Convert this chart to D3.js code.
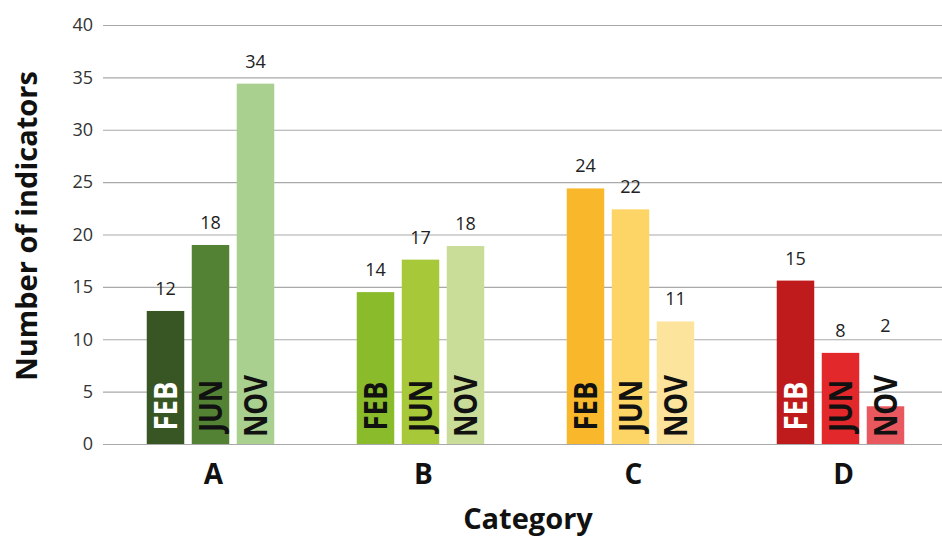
<!DOCTYPE html>
<html>
<head>
<meta charset="utf-8">
<script src="https://cdn.jsdelivr.net/npm/d3@7"></script>
<style>
  html, body { margin: 0; padding: 0; background: #fff; }
  svg { display: block; font-family: "Open Sans", "DejaVu Sans", sans-serif; }
</style>
</head>
<body>
<svg id="chart" width="942" height="536"></svg>
<script>
// ---- data ----
const categories = ["A", "B", "C", "D"];
const months = ["FEB", "JUN", "NOV"];
// numbers printed above the bars
const labelValues = {
  A: [12, 18, 34],
  B: [14, 17, 18],
  C: [24, 22, 11],
  D: [15, 8, 2]
};
// bar heights as drawn in the reference
const barValues = {
  A: [12.7, 19.0, 34.4],
  B: [14.5, 17.6, 18.9],
  C: [24.4, 22.4, 11.7],
  D: [15.6, 8.7, 3.6]
};
const yTicks = [0, 5, 10, 15, 20, 25, 30, 35, 40];
const colors = {
  A: ["#375623", "#548235", "#a9d08e"],
  B: ["#8abb2a", "#a7c838", "#c9dd98"],
  C: ["#f9b82b", "#fdd466", "#fde49d"],
  D: ["#bf1a1c", "#e3282c", "#e8585e"]
};
const inBarTextColor = {
  A: ["#ffffff", "#111111", "#111111"],
  B: ["#111111", "#111111", "#111111"],
  C: ["#111111", "#111111", "#111111"],
  D: ["#ffffff", "#111111", "#111111"]
};

// ---- layout ----
const W = 942, H = 536;
const svg = d3.select("#chart");
const yTop = 25, yBottom = 444;
const gridLeft = 103;

const y = d3.scaleLinear().domain([0, 40]).range([yBottom, yTop]);
const x0 = d3.scaleBand().domain(categories).range([105.5, 945.5])
  .paddingInner(0.3929).paddingOuter(0.3929 / 2);
const x1 = d3.scaleBand().domain(months).range([0, x0.bandwidth()])
  .paddingInner(0.1667).paddingOuter(0);

// gridlines
const yAxis = d3.axisLeft(y).tickValues(yTicks).tickSize(-(W - gridLeft)).tickPadding(10);
const ga = svg.append("g").attr("transform", `translate(${gridLeft},0)`).call(yAxis);
ga.select(".domain").remove();
ga.selectAll(".tick line").attr("stroke", "#a9a9a9").attr("stroke-width", 1.2);
ga.selectAll(".tick text").attr("fill", "#333").attr("font-size", 18)
  .attr("font-family", "'Open Sans', sans-serif").attr("x", -10);

// bars
const groups = svg.selectAll("g.cat").data(categories).join("g")
  .attr("class", "cat")
  .attr("transform", d => `translate(${x0(d)},0)`);

groups.each(function (cat) {
  const g = d3.select(this);
  const rows = months.map((m, i) => ({
    m, i, v: barValues[cat][i], lab: labelValues[cat][i],
    color: colors[cat][i], tcol: inBarTextColor[cat][i]
  }));

  g.selectAll("rect").data(rows).join("rect")
    .attr("x", d => x1(d.m))
    .attr("y", d => y(d.v))
    .attr("width", x1.bandwidth())
    .attr("height", d => y(0) - y(d.v))
    .attr("fill", d => d.color);

  // month text inside bars
  const tcy = y(0) - 38;
  g.selectAll("text.month").data(rows).join("text")
    .attr("class", "month")
    .attr("transform", d => `translate(${x1(d.m) + x1.bandwidth() / 2},${tcy}) rotate(-90) scale(0.86,1)`)
    .attr("text-anchor", "middle")
    .attr("dy", "0.36em")
    .attr("font-size", 32)
    .attr("font-weight", 700)
    .attr("fill", d => d.tcol)
    .text(d => d.m);

  // value labels
  g.selectAll("text.val").data(rows).join("text")
    .attr("class", "val")
    .attr("x", d => x1(d.m) + x1.bandwidth() / 2)
    .attr("y", function (d) {
      let base = y(d.v) - 16;
      // keep clear of month text that rises above short bars
      const textTop = tcy - 32;
      if (textTop < y(d.v)) base = Math.min(base, textTop - 42);
      return base;
    })
    .attr("text-anchor", "middle")
    .attr("font-size", 18)
    .attr("fill", "#222")
    .text(d => d.lab);
});

// category labels
svg.selectAll("text.catlab").data(categories).join("text")
  .attr("class", "catlab")
  .attr("x", d => x0(d) + x0.bandwidth() / 2 + 3)
  .attr("y", 484)
  .attr("text-anchor", "middle")
  .attr("font-size", 28)
  .attr("font-weight", 700)
  .attr("fill", "#111")
  .text(d => d);

// axis titles
svg.append("text")
  .attr("x", 528).attr("y", 529)
  .attr("text-anchor", "middle")
  .attr("font-size", 29).attr("font-weight", 700).attr("fill", "#111")
  .text("Category");

svg.append("text")
  .attr("transform", `translate(37,${(70 + 382) / 2}) rotate(-90)`)
  .attr("text-anchor", "middle")
  .attr("font-size", 29).attr("font-weight", 700).attr("fill", "#111")
  .text("Number of indicators");
</script>
</body>
</html>
